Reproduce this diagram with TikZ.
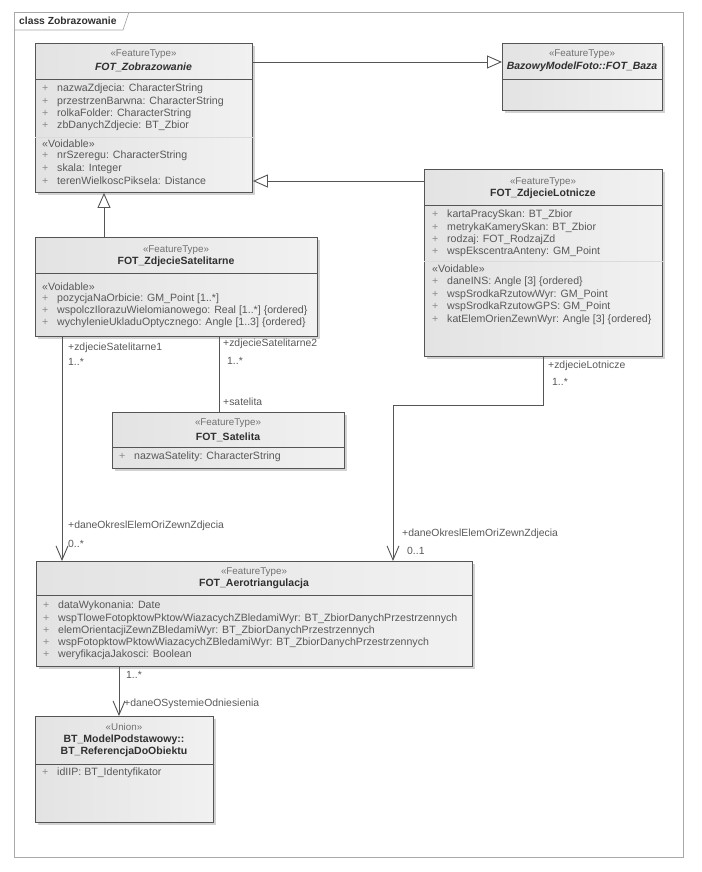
\documentclass[tikz,border=0pt]{standalone}
\usepackage{fontspec}
\setmainfont{Liberation Sans}
\usetikzlibrary{arrows.meta,positioning,calc,shadows}
\definecolor{boxleft}{HTML}{E3E3E3}
\definecolor{boxright}{HTML}{F1F1F1}
\definecolor{boxline}{HTML}{555555}
\definecolor{attrtext}{HTML}{585858}
\definecolor{nametext}{HTML}{303030}
\definecolor{stereo}{HTML}{707070}
\definecolor{framegray}{HTML}{A8A8A8}
\newcommand{\vis}{\makebox[15pt][l]{\textcolor{black!45}{+}}}
\tikzset{
  classbox/.style={draw=boxline, line width=0.9pt, left color=boxleft, right color=boxright,
    anchor=north west, inner sep=0pt,
    drop shadow={shadow xshift=2.5pt, shadow yshift=-2.5pt, fill=black!35, opacity=0.5}},
  sepline/.style={draw=boxline, line width=0.9pt},
  grpline/.style={draw=black!14, line width=0.6pt},
  stereotxt/.style={font=\fontsize{9.8}{10}\selectfont, text=stereo, inner sep=0pt},
  nametxt/.style={font=\fontsize{10.5}{11}\selectfont\bfseries, text=nametext, inner sep=0pt},
  attrtxt/.style={font=\fontsize{10.6}{11}\selectfont, text=attrtext, anchor=west, inner sep=0pt},
  roletxt/.style={font=\fontsize{10.4}{11}\selectfont, text=attrtext, anchor=west, inner sep=0pt},
  gen/.style={-{Triangle[open, length=15pt, width=13pt]}, draw=boxline, line width=0.9pt},
  assoc/.style={-{Straight Barb[length=14pt, width=12pt]}, draw=boxline, line width=0.9pt},
  link/.style={draw=boxline, line width=0.9pt}
}
\begin{document}
\begin{tikzpicture}[x=1pt,y=-1pt]
\useasboundingbox (0,0) rectangle (701,872);
% frame
\draw[framegray, line width=0.7pt] (14,12) rectangle (683,857);
\draw[framegray, line width=0.7pt] (14,30) -- (123,30) -- (129,12);
\node[font=\fontsize{10.3}{11}\selectfont\bfseries, text=nametext, anchor=west, inner sep=0pt] (title) at (19,21) {class Zobrazowanie};

% FOT_Zobrazowanie
\node[classbox, minimum width=217pt, minimum height=149pt] (zob) at (35,43) {};
\draw[sepline] ([yshift=-36pt]zob.north west) -- ([yshift=-36pt]zob.north east);
\draw[grpline] ([yshift=-94pt]zob.north west) -- ([yshift=-94pt]zob.north east);
\node[stereotxt] (zobst) at (143.5,54) {«FeatureType»};
\node[nametxt] (zobnm) at (143.5,67) {\itshape FOT\_Zobrazowanie};
\foreach \t [count=\i from 0] in {nazwaZdjecia: CharacterString, przestrzenBarwna: CharacterString,
    rolkaFolder: CharacterString, zbDanychZdjecie: BT\_Zbior}
  \node[attrtxt] (zoba\i) at (42,89+12.4*\i) {\vis\t};
\node[attrtxt] (zobvd) at (42,144) {«Voidable»};
\foreach \t [count=\i from 0] in {nrSzeregu: CharacterString, skala: Integer,
    terenWielkoscPiksela: Distance}
  \node[attrtxt] (zobv\i) at (42,156+12.4*\i) {\vis\t};

% BazowyModelFoto::FOT_Baza
\node[classbox, minimum width=160pt, minimum height=67pt] (baza) at (502,43) {};
\draw[sepline] ([yshift=-36pt]baza.north west) -- ([yshift=-36pt]baza.north east);
\node[stereotxt] (bazast) at (582,54) {«FeatureType»};
\node[nametxt] (bazanm) at (582,67) {\itshape BazowyModelFoto::FOT\_Baza};

% FOT_ZdjecieLotnicze
\node[classbox, minimum width=238pt, minimum height=187pt] (lot) at (424,169) {};
\draw[sepline] ([yshift=-36pt]lot.north west) -- ([yshift=-36pt]lot.north east);
\draw[grpline] ([yshift=-92pt]lot.north west) -- ([yshift=-92pt]lot.north east);
\node[stereotxt] (lotst) at (543,182) {«FeatureType»};
\node[nametxt] (lotnm) at (543,194) {FOT\_ZdjecieLotnicze};
\foreach \t [count=\i from 0] in {kartaPracySkan: BT\_Zbior, metrykaKamerySkan: BT\_Zbior,
    rodzaj: FOT\_RodzajZd, wspEkscentraAnteny: GM\_Point}
  \node[attrtxt] (lota\i) at (432,215+12.4*\i) {\vis\t};
\node[attrtxt] (lotvd) at (432,269) {«Voidable»};
\foreach \t [count=\i from 0] in {daneINS: Angle [3] \{ordered\}, wspSrodkaRzutowWyr: GM\_Point,
    wspSrodkaRzutowGPS: GM\_Point, katElemOrienZewnWyr: Angle [3] \{ordered\}}
  \node[attrtxt] (lotv\i) at (432,282+12.6*\i) {\vis\t};

% FOT_ZdjecieSatelitarne
\node[classbox, minimum width=282pt, minimum height=99pt] (sat) at (35,237) {};
\draw[sepline] ([yshift=-36pt]sat.north west) -- ([yshift=-36pt]sat.north east);
\node[stereotxt] (satst) at (176,250) {«FeatureType»};
\node[nametxt] (satnm) at (176,262) {FOT\_ZdjecieSatelitarne};
\node[attrtxt] (satvd) at (42,287) {«Voidable»};
\foreach \t [count=\i from 0] in {pozycjaNaOrbicie: GM\_Point [1..*],
    wspolczIlorazuWielomianowego: Real [1..*] \{ordered\},
    wychylenieUkladuOptycznego: Angle [1..3] \{ordered\}}
  \node[attrtxt] (satv\i) at (42,299+12*\i) {\vis\t};

% FOT_Satelita
\node[classbox, minimum width=232pt, minimum height=56pt] (satl) at (112,412) {};
\draw[sepline] ([yshift=-35pt]satl.north west) -- ([yshift=-35pt]satl.north east);
\node[stereotxt] (satlst) at (228,423) {«FeatureType»};
\node[nametxt] (satlnm) at (228,437) {FOT\_Satelita};
\node[attrtxt] (satla0) at (119,457) {\vis nazwaSatelity: CharacterString};

% FOT_Aerotriangulacja
\node[classbox, minimum width=436pt, minimum height=105pt] (aero) at (36,561) {};
\draw[sepline] ([yshift=-34pt]aero.north west) -- ([yshift=-34pt]aero.north east);
\node[stereotxt] (aerost) at (254,572) {«FeatureType»};
\node[nametxt] (aeronm) at (254,584) {FOT\_Aerotriangulacja};
\foreach \t [count=\i from 0] in {dataWykonania: Date,
    wspTloweFotopktowPktowWiazacychZBledamiWyr: BT\_ZbiorDanychPrzestrzennych,
    elemOrientacjiZewnZBledamiWyr: BT\_ZbiorDanychPrzestrzennych,
    wspFotopktowPktowWiazacychZBledamiWyr: BT\_ZbiorDanychPrzestrzennych,
    weryfikacjaJakosci: Boolean}
  \node[attrtxt] (aeroa\i) at (43,606+12.3*\i) {\vis\t};

% BT_ModelPodstawowy::BT_ReferencjaDoObiektu
\node[classbox, minimum width=178pt, minimum height=106pt] (uni) at (35,716) {};
\draw[sepline] ([yshift=-48pt]uni.north west) -- ([yshift=-48pt]uni.north east);
\node[stereotxt] (unist) at (124,727) {«Union»};
\node[nametxt] (uninm1) at (124,740) {BT\_ModelPodstawowy::};
\node[nametxt] (uninm2) at (124,752) {BT\_ReferencjaDoObiektu};
\node[attrtxt] (unia0) at (42,773) {\vis idIIP: BT\_Identyfikator};

% generalizations
\draw[gen] ([yshift=-19pt]zob.north east) -- ([yshift=-19pt]baza.north west);
\coordinate (lotg) at ([yshift=-12pt]lot.north west);
\draw[gen] (lotg) -- (lotg -| zob.east);
\coordinate (satg) at ([xshift=69pt]sat.north west);
\draw[gen] (satg) -- (satg |- zob.south);

% associations
\coordinate (sata) at ([xshift=27pt]sat.south west);
\draw[assoc] (sata) -- (sata |- aero.north);
\coordinate (sats) at ([xshift=184pt]sat.south west);
\draw[link] (sats) -- (sats |- satl.north);
\coordinate (lota) at ([xshift=119pt]lot.south west);
\coordinate (aerol) at ([xshift=357pt]aero.north west);
\draw[assoc] (lota) -- ++(0,49) -| (aerol);
\coordinate (aeru) at ([xshift=83pt]aero.south west);
\draw[assoc] (aeru) -- (aeru |- uni.north);

% role names and multiplicities
\node[roletxt] (r1) at (68,348) {+zdjecieSatelitarne1};
\node[roletxt] (m1) at (68,362) {1..*};
\node[roletxt] (r2) at (223,344) {+zdjecieSatelitarne2};
\node[roletxt] (m2) at (227,361) {1..*};
\node[roletxt] (r3) at (223,402) {+satelita};
\node[roletxt] (r4) at (68,526) {+daneOkreslElemOriZewnZdjecia};
\node[roletxt] (m4) at (68,544) {0..*};
\node[roletxt] (r5) at (548,366) {+zdjecieLotnicze};
\node[roletxt] (m5) at (552,382) {1..*};
\node[roletxt] (r6) at (402,534) {+daneOkreslElemOriZewnZdjecia};
\node[roletxt] (m6) at (407,551) {0..1};
\node[roletxt] (m7) at (126,675) {1..*};
\node[roletxt] (r7) at (124,704) {+daneOSystemieOdniesienia};
\end{tikzpicture}
\end{document}
